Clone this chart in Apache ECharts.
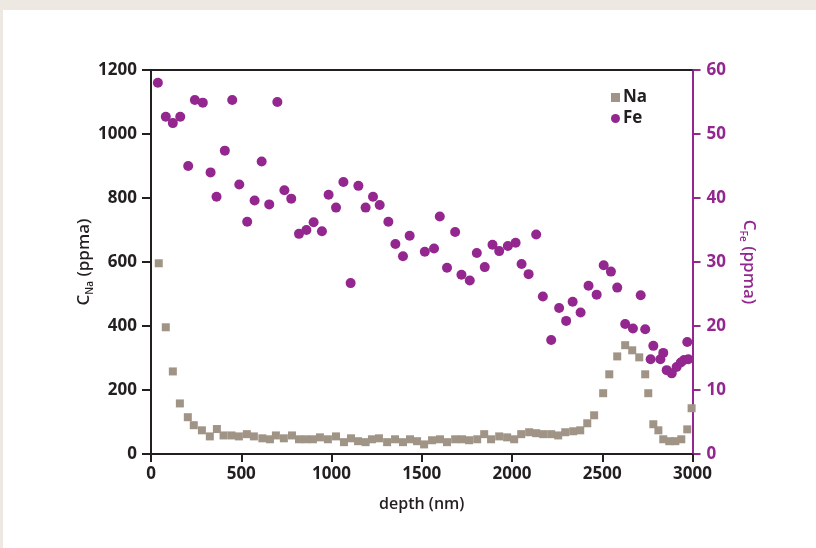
<!DOCTYPE html>
<html>
<head>
<meta charset="utf-8">
<script src="https://cdn.jsdelivr.net/npm/echarts@6/dist/echarts.min.js"></script>
<style>
html,body{margin:0;padding:0;background:#ede8e2;}
#wrap{position:absolute;left:3px;top:10px;width:813px;height:538px;background:#fff;}
#chart{position:absolute;left:-3px;top:-10px;width:816px;height:548px;}
</style>
</head>
<body>
<div id="wrap"><div id="chart"></div></div>
<script>
// depth (nm) and concentrations (ppma)
const naDepth = [43,82,121,160,204,237,282,326,365,402,446,487,531,570,617,659,692,736,781,820,858,897,936,980,1025,1069,1108,1147,1189,1224,1263,1308,1352,1396,1435,1474,1513,1557,1601,1640,1685,1723,1762,1807,1846,1884,1929,1973,2012,2051,2095,2134,2173,2217,2256,2295,2339,2378,2417,2455,2505,2539,2583,2627,2666,2705,2738,2755,2783,2811,2838,2871,2905,2938,2971,2995];
const naValues = [596,396,258,158,115,90,74,55,78,58,58,55,62,55,49,46,58,49,58,46,46,46,52,46,55,37,49,40,37,46,49,37,46,37,46,40,30,43,46,37,46,46,43,46,62,46,55,52,46,62,68,65,62,62,58,68,71,74,96,121,190,249,305,340,324,302,249,190,93,74,46,40,40,46,77,143];
const feDepth = [38,82,121,162,206,243,287,330,363,409,450,489,533,574,613,655,700,739,777,820,861,901,947,984,1025,1066,1106,1149,1189,1230,1267,1315,1354,1396,1433,1517,1568,1600,1640,1685,1720,1766,1805,1849,1892,1929,1977,2020,2053,2092,2134,2171,2217,2261,2300,2336,2380,2424,2469,2508,2548,2583,2627,2670,2713,2738,2768,2783,2822,2838,2857,2885,2912,2935,2953,2971,2977];
const feValues = [58.0,52.7,51.7,52.7,45.0,55.3,54.9,44.0,40.2,47.4,55.3,42.1,36.3,39.6,45.7,39.0,55.0,41.2,39.9,34.4,35.0,36.2,34.8,40.5,38.5,42.5,26.7,41.9,38.5,40.2,38.9,36.3,32.8,30.9,34.1,31.6,32.1,37.1,29.1,34.7,28.0,27.1,31.4,29.2,32.7,31.7,32.5,33.0,29.7,28.1,34.3,24.6,17.8,22.8,20.8,23.8,22.1,26.3,24.9,29.5,28.5,26.0,20.3,19.6,24.8,19.5,14.8,16.9,14.8,15.8,13.1,12.6,13.6,14.3,14.7,17.5,14.8];
const xTicks = [0, 3000, 500];
const naTicks = [0, 1200, 200];
const feTicks = [0, 60, 10];

const DARK = '#231f20', PURPLE = '#93278f', GREY = '#a09486';
const FONT = 'Open Sans';
const plain = v => String(v);

const chart = echarts.init(document.getElementById('chart'), null, {renderer: 'canvas'});
const pair = (xs, ys) => xs.map((x, i) => [x, ys[i]]);

chart.setOption({
  animation: false,
  backgroundColor: 'transparent',
  grid: {left: 151, right: 123.5, top: 70, bottom: 94, containLabel: false},
  legend: {
    orient: 'vertical', left: 606, top: 84,
    itemWidth: 9, itemHeight: 9, itemGap: 4,
    textStyle: {fontFamily: FONT, fontSize: 17, fontWeight: 700, color: DARK, padding: [0,0,0,-2]},
    data: [{name: 'Na', icon: 'rect'}, {name: 'Fe', icon: 'circle'}]
  },
  xAxis: [{
    type: 'value', min: xTicks[0], max: xTicks[1], interval: xTicks[2],
    name: 'depth (nm)', nameLocation: 'middle', nameGap: 42, nameMoveOverlap: false,
    nameTextStyle: {fontFamily: FONT, fontSize: 16, fontWeight: 600, color: DARK},
    axisLine: {show: true, onZero: false, lineStyle: {color: DARK, width: 2}},
    axisTick: {show: true, inside: false, length: 8, lineStyle: {color: DARK, width: 2}},
    axisLabel: {fontFamily: FONT, fontSize: 17, fontWeight: 700, color: DARK, margin: 12, formatter: plain},
    splitLine: {show: false}
  }, {
    type: 'value', position: 'top', min: xTicks[0], max: xTicks[1],
    axisLine: {show: true, onZero: false, lineStyle: {color: DARK, width: 2}},
    axisTick: {show: false}, axisLabel: {show: false}, splitLine: {show: false}
  }],
  yAxis: [{
    type: 'value', position: 'left', min: naTicks[0], max: naTicks[1], interval: naTicks[2],
    name: '{c|C}{s|Na}{c| (ppma)}', nameLocation: 'middle', nameGap: 56, nameRotate: 90, nameMoveOverlap: false,
    nameTextStyle: {
      color: DARK,
      rich: {
        c: {fontFamily: FONT, fontSize: 17, fontWeight: 600, color: DARK, lineHeight: 22},
        s: {fontFamily: FONT, fontSize: 10, fontWeight: 600, color: DARK, lineHeight: 10, verticalAlign: 'bottom'}
      }
    },
    axisLine: {show: true, onZero: false, lineStyle: {color: DARK, width: 2}},
    axisTick: {show: true, inside: false, length: 9, lineStyle: {color: DARK, width: 2}},
    axisLabel: {fontFamily: FONT, fontSize: 17, fontWeight: 700, color: DARK, margin: 14, formatter: plain},
    splitLine: {show: false}
  }, {
    type: 'value', position: 'right', min: feTicks[0], max: feTicks[1], interval: feTicks[2],
    name: '{c|C}{s|Fe}{c| (ppma)}', nameLocation: 'middle', nameGap: 45, nameRotate: -90, nameMoveOverlap: false,
    nameTextStyle: {
      color: PURPLE,
      rich: {
        c: {fontFamily: FONT, fontSize: 17, fontWeight: 600, color: PURPLE, lineHeight: 22},
        s: {fontFamily: FONT, fontSize: 10, fontWeight: 600, color: PURPLE, lineHeight: 10, verticalAlign: 'bottom'}
      }
    },
    axisLine: {show: true, onZero: false, lineStyle: {color: PURPLE, width: 2}},
    axisTick: {show: true, inside: false, length: 8, lineStyle: {color: PURPLE, width: 2}},
    axisLabel: {fontFamily: FONT, fontSize: 17, fontWeight: 700, color: PURPLE, margin: 14, formatter: plain},
    splitLine: {show: false}
  }],
  series: [{
    name: 'Na', type: 'scatter', xAxisIndex: 0, yAxisIndex: 0,
    symbol: 'rect', symbolSize: 8,
    itemStyle: {color: GREY, opacity: 1},
    data: pair(naDepth, naValues), z: 2
  }, {
    name: 'Fe', type: 'scatter', xAxisIndex: 0, yAxisIndex: 1,
    symbol: 'circle', symbolSize: 10,
    itemStyle: {color: PURPLE, opacity: 1},
    data: pair(feDepth, feValues), z: 3
  }]
});
</script>
</body>
</html>
